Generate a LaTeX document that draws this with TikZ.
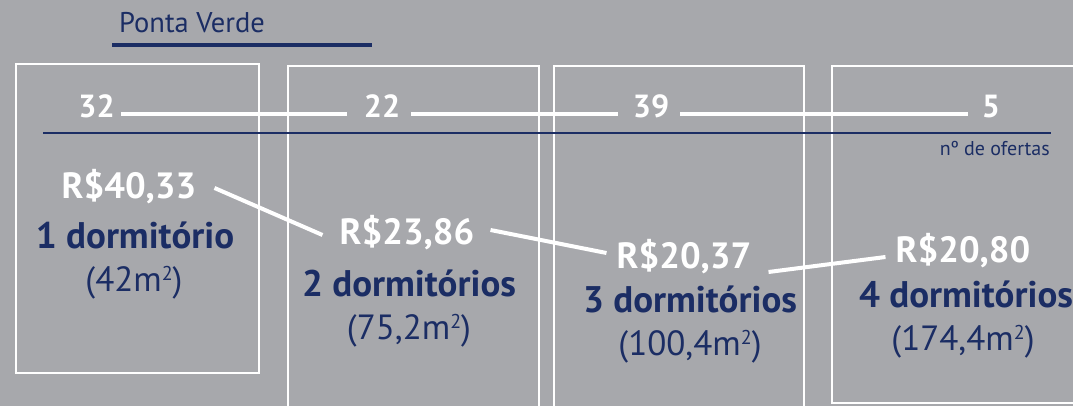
\documentclass[tikz,border=0pt]{standalone}
\usepackage{fontspec}
\setmainfont{PT Sans}
\definecolor{bg}{HTML}{A7A8AC}
\definecolor{navy}{HTML}{1B2D64}
\newcommand{\sqm}{m\raisebox{10.5pt}{\fontsize{20}{20}\selectfont 2}}
\begin{document}
\begin{tikzpicture}[x=1pt,y=-1pt,
  txt/.style={inner sep=0pt, anchor=base},
  price/.style={txt, text=white, font=\bfseries\fontsize{36.5}{36.5}\selectfont},
  dorm/.style={txt, text=navy, font=\bfseries\fontsize{37}{37}\selectfont},
  area/.style={txt, text=navy, font=\fontsize{35}{35}\selectfont},
  num/.style={txt, text=white, font=\bfseries\fontsize{32}{32}\selectfont},
  wline/.style={draw=white, line width=4pt},
  box/.style={draw=white, line width=1.6pt}]
\useasboundingbox (0,0) rectangle (1073,406);
\fill[bg] (0,0) rectangle (1073,406);
\clip (0,0) rectangle (1073,406);
% boxes
\draw[box] (16,64) rectangle (259,373);
\draw[box] (288,66) rectangle (539,420);
\draw[box] (554,66) rectangle (804,420);
\draw[box] (832,66) rectangle (1090,403);
% title
\node[txt, anchor=base west, text=navy, font=\fontsize{28.5}{28.5}\selectfont] (title) at (119,33) {Ponta Verde};
\coordinate (ulA) at (112,45);
\coordinate (ulB) at (372,45);
\draw[navy, line width=4.5pt] (ulA) -- (ulB);
% axis
\coordinate (axA) at (43,133);
\coordinate (axB) at (1051,133);
\draw[navy, line width=2pt] (axA) -- (axB);
\node[txt, anchor=base east, text=navy, font=\fontsize{20}{20}\selectfont] (nof) at (1050,156) {nº de ofertas};
% numbers
\node[num] (n1) at (96.5,118) {32};
\node[num] (n2) at (382,118) {22};
\node[num] (n3) at (651,118) {39};
\node[num] (n4) at (991,118) {5};
\draw[wline] ([shift={(6,-4)}]n1.base east) -- ([shift={(-17,-4)}]n2.base west);
\draw[wline] ([shift={(11,-4)}]n2.base east) -- ([shift={(-15,-4)}]n3.base west);
\draw[wline] ([shift={(11,-4)}]n3.base east) -- ([shift={(-14,-4)}]n4.base west);
% prices
\node[price] (p1) at (129,199) {R\$40,33};
\node[price] (p2) at (407,244) {R\$23,86};
\node[price] (p3) at (684,268) {R\$20,37};
\node[price] (p4) at (963,262) {R\$20,80};
\node[dorm] (d1) at (135,248) {1 dormitório};
\node[dorm] (d2) at (409,296) {2 dormitórios};
\node[dorm] (d3) at (690,312) {3 dormitórios};
\node[dorm] (d4) at (966,307) {4 dormitórios};
\node[area] (a1) at (134,291) {(42\sqm)};
\node[area] (a2) at (409,339) {(75,2\sqm)};
\node[area] (a3) at (690,355) {(100,4\sqm)};
\node[area] (a4) at (963,350) {(174,4\sqm)};
\draw[wline] ([shift={(18,-11)}]p1.base east) -- ([shift={(-17,-9)}]p2.base west);
\draw[wline] ([shift={(16,-14)}]p2.base east) -- ([shift={(-10,-15)}]p3.base west);
\draw[wline] ([shift={(17,4)}]p3.base east) -- ([shift={(-10,-5)}]p4.base west);
\end{tikzpicture}
\end{document}
